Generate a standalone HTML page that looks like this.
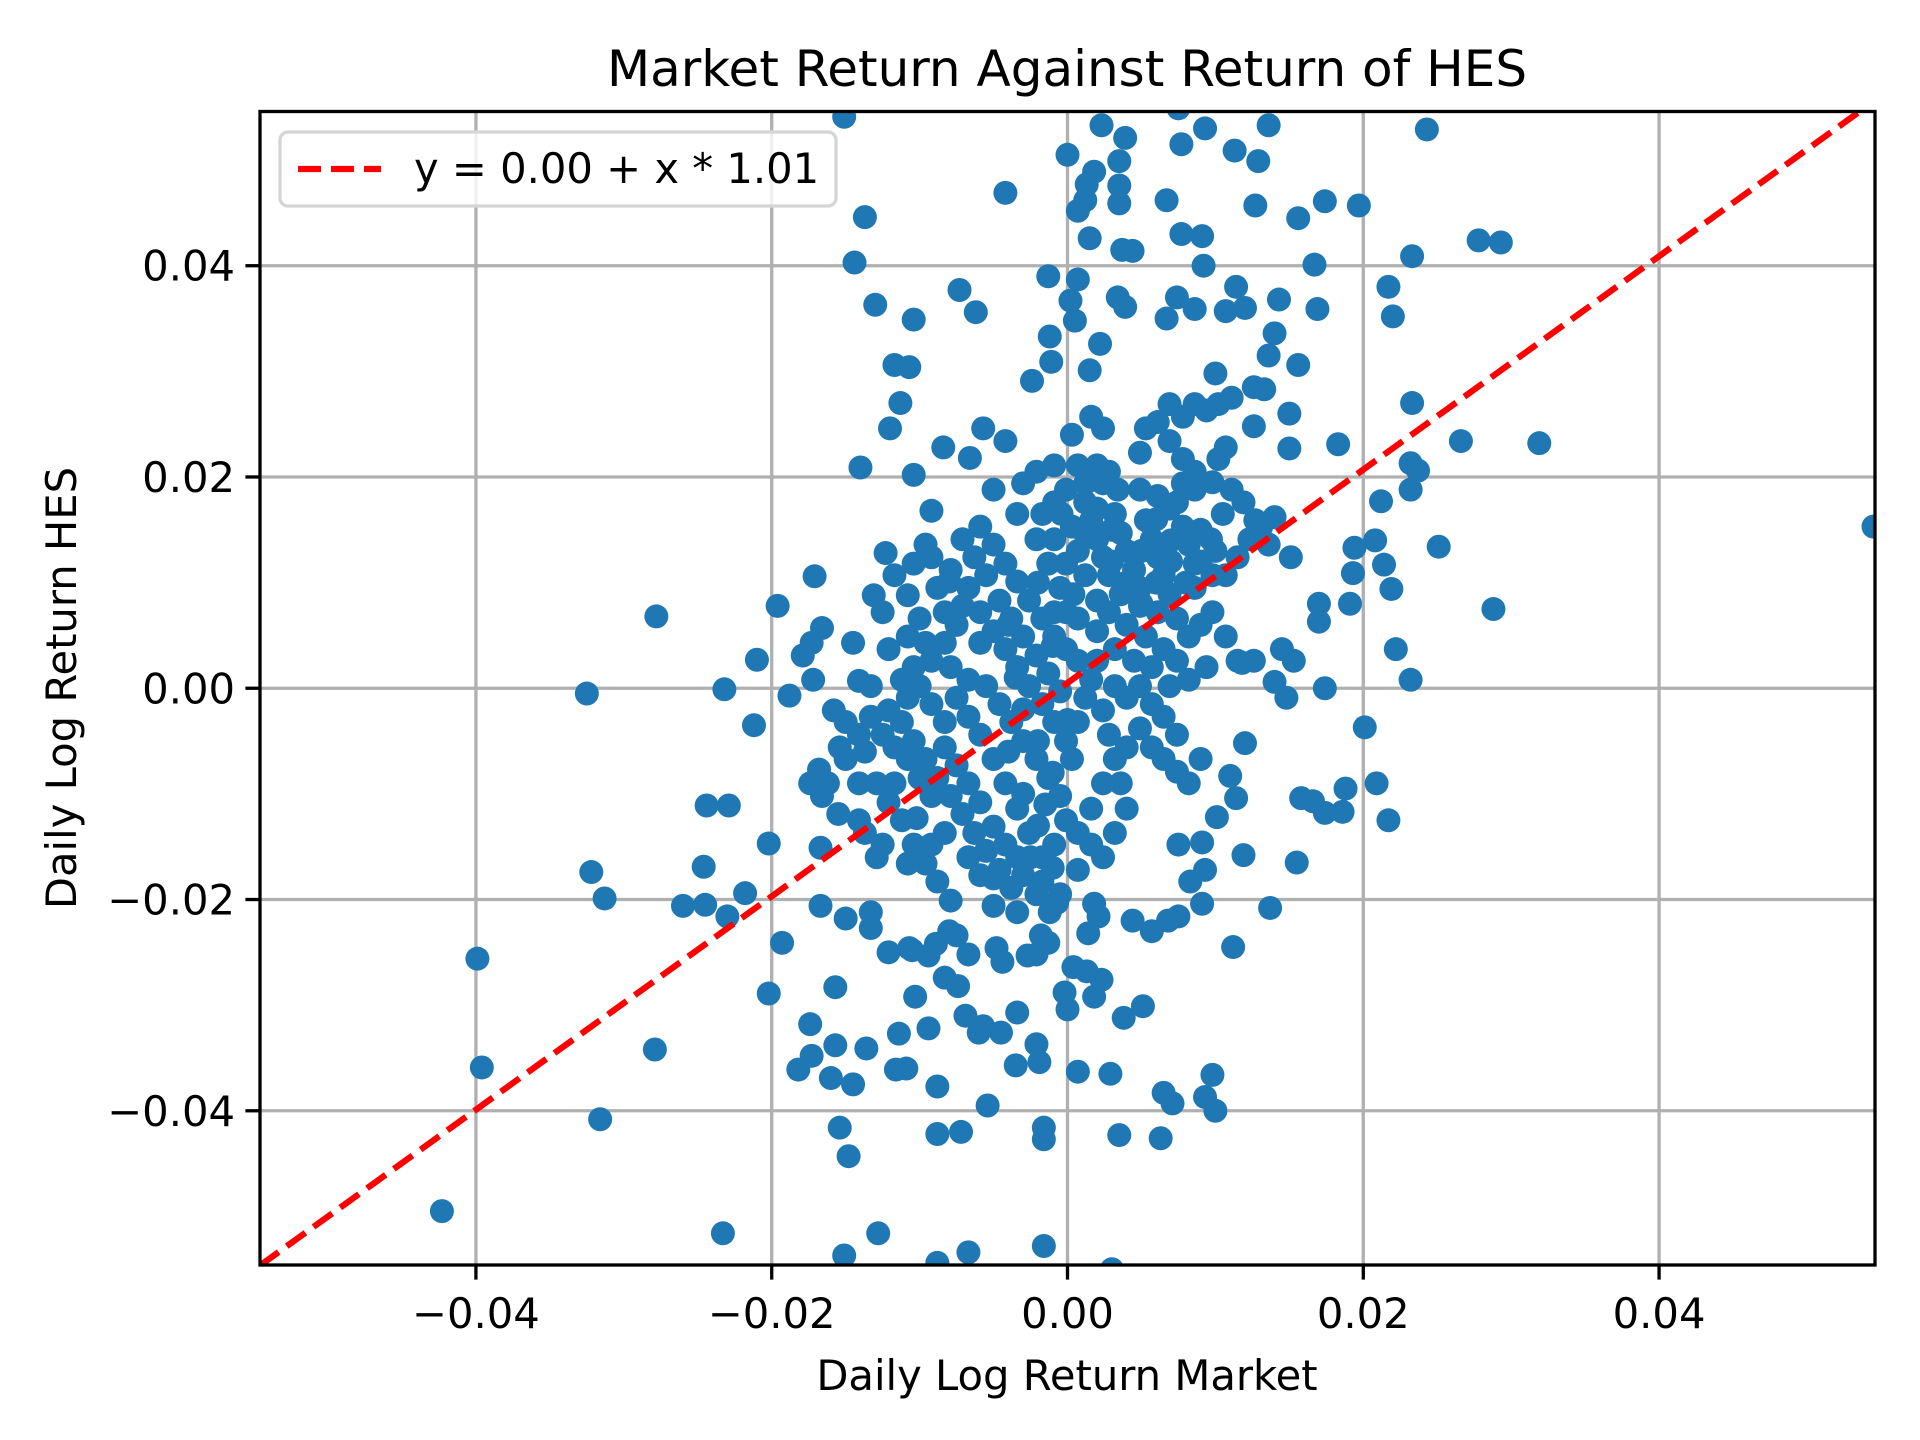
<!DOCTYPE html>
<html><head><meta charset="utf-8"><style>
html,body{margin:0;padding:0;background:#fff;}
svg{display:block;font-family:"DejaVu Sans","Liberation Sans",sans-serif;}
</style></head><body>
<svg id="chart" width="1920" height="1440" viewBox="0 0 1920 1440" xmlns="http://www.w3.org/2000/svg">
<rect x="0" y="0" width="1920" height="1440" fill="#fff"/>
<text x="1067" y="86" font-size="50" text-anchor="middle">Market Return Against Return of HES</text>
<g id="grid"></g>
<g id="marks"></g>
<g id="fit"></g>
<rect x="260" y="111.5" width="1615" height="1153.5" fill="none" stroke="#000" stroke-width="3.3"/>
<g id="axes"></g>
<text x="1067" y="1390" font-size="41.7" text-anchor="middle">Daily Log Return Market</text>
<text x="0" y="0" font-size="41.7" text-anchor="middle" transform="translate(76,688) rotate(-90)">Daily Log Return HES</text>
<g>
<rect x="280" y="132" width="556" height="74" rx="8" fill="#fff" fill-opacity="0.8" stroke="#d5d5d5" stroke-width="3.3"/>
<line x1="298" y1="169" x2="381" y2="169" stroke="#ff0000" stroke-width="6.25" stroke-dasharray="23,10"/>
<text x="414" y="183" font-size="41.7">y = 0.00 + x * 1.01</text>
</g>
</svg>
<script>
const xTicks = [-0.04, -0.02, 0.00, 0.02, 0.04];
const yTicks = [-0.04, -0.02, 0.00, 0.02, 0.04];
const xTickLabels = ["\u22120.04", "\u22120.02", "0.00", "0.02", "0.04"];
const yTickLabels = ["\u22120.04", "\u22120.02", "0.00", "0.02", "0.04"];
const fitIntercept = 0.0005;
const fitSlope = 1.01;
const outlierPairs = [
[0.0545,0.0153],[0.0319,0.0232],[0.0293,0.0422],[0.0278,0.0424],[0.0243,0.0529],[0.0288,0.0075],[0.0251,0.0134],[0.0266,0.0234],
[0.0233,0.0409],[0.0233,0.0270],[0.0232,0.0213],[0.0232,0.0188],[0.0237,0.0206],[0.0232,0.0008],[0.0222,0.0037],[0.0219,0.0094],
[0.0217,-0.0125],[0.0220,0.0352],[0.0217,0.0380],[0.0214,0.0117],[0.0212,0.0177],[0.0208,0.0140],[0.0209,-0.0090],[0.0201,-0.0037],
[0.0197,0.0457],[0.0194,0.0133],[0.0191,0.0080],[0.0193,0.0109],[0.0188,-0.0095],[0.0186,-0.0117],[0.0183,0.0231],[0.0174,0.0461],
[0.0169,0.0359],[0.0167,0.0401],[0.0174,0.0000],[0.0174,-0.0118],[0.0170,0.0080],[0.0170,0.0063],[0.0166,-0.0107],[0.0158,-0.0104],
[0.0155,-0.0165],[0.0156,0.0445],[0.0156,0.0306],[0.0150,0.0227],[0.0150,0.0260],[0.0148,-0.0009],[0.0153,0.0026],[0.0145,0.0037],
[0.0151,0.0124],[0.0140,0.0162],[0.0136,0.0533],[0.0143,0.0368],[0.0140,0.0336],[0.0136,0.0315],[0.0133,0.0283],[0.0127,0.0457],
[0.0129,0.0499],[0.0113,0.0509],[0.0114,0.0380],[0.0120,0.0360],[0.0107,0.0357],[0.0126,0.0248],[0.0126,0.0285],[0.0119,-0.0158],
[0.0120,-0.0052],[0.0112,-0.0245],[0.0114,-0.0104],[0.0110,-0.0083],[0.0101,-0.0122],[0.0137,-0.0208],[0.0118,0.0024],[0.0126,0.0026],
[0.0140,0.0006],[0.0098,-0.0366],[0.0100,-0.0400],[0.0093,-0.0387],[0.0100,0.0298],[0.0098,0.0195],[0.0092,0.0400],[0.0091,0.0428],
[0.0093,0.0530],[0.0077,0.0515],[0.0077,0.0430],[0.0074,0.0370],[0.0086,0.0359],[0.0067,0.0350],[0.0067,0.0462],[0.0039,0.0521],
[0.0035,0.0499],[0.0035,0.0476],[0.0035,0.0459],[0.0037,0.0415],[0.0044,0.0414],[0.0034,0.0370],[0.0039,0.0361],[0.0023,0.0533],
[0.0018,0.0489],[0.0013,0.0477],[0.0012,0.0462],[0.0007,0.0452],[0.0015,0.0426],[0.0000,0.0505],[0.0007,0.0387],[0.0002,0.0367],
[0.0005,0.0348],[-0.0013,0.0390],[-0.0012,0.0333],[-0.0011,0.0309],[-0.0024,0.0291],[0.0022,0.0326],[0.0015,0.0301],[-0.0042,0.0469],
[0.0075,0.0549],[-0.0151,0.0541],[-0.0137,0.0446],[-0.0144,0.0403],[-0.0130,0.0363],[-0.0104,0.0349],[-0.0117,0.0306],[-0.0107,0.0304],
[-0.0113,0.0270],[-0.0120,0.0246],[-0.0140,0.0209],[-0.0104,0.0202],[-0.0084,0.0228],[-0.0073,0.0377],[-0.0062,0.0356],[-0.0057,0.0246],
[-0.0042,0.0234],[-0.0066,0.0218],[-0.0092,0.0168],[-0.0123,0.0128],[-0.0080,0.0101],[-0.0131,0.0088],[-0.0108,0.0088],[-0.0171,0.0106],
[-0.0166,0.0057],[-0.0173,0.0043],[-0.0179,0.0031],[-0.0145,0.0043],[-0.0196,0.0078],[-0.0210,0.0027],[-0.0172,0.0008],[-0.0141,0.0007],
[-0.0232,-0.0001],[-0.0188,-0.0007],[-0.0212,-0.0035],[-0.0325,-0.0005],[-0.0278,0.0068],[-0.0244,-0.0111],[-0.0229,-0.0111],[-0.0202,-0.0147],
[-0.0246,-0.0169],[-0.0322,-0.0174],[-0.0313,-0.0199],[-0.0260,-0.0206],[-0.0245,-0.0205],[-0.0218,-0.0194],[-0.0230,-0.0216],[-0.0399,-0.0256],
[-0.0396,-0.0359],[-0.0279,-0.0342],[-0.0316,-0.0408],[-0.0423,-0.0495],[-0.0233,-0.0516],[-0.0193,-0.0241],[-0.0202,-0.0289],[-0.0174,-0.0318],
[-0.0182,-0.0361],[-0.0173,-0.0348],[-0.0160,-0.0369],[-0.0154,-0.0416],[-0.0148,-0.0443],[-0.0145,-0.0375],[-0.0157,-0.0338],[-0.0136,-0.0341],
[-0.0157,-0.0283],[-0.0167,-0.0206],[-0.0167,-0.0151],[-0.0150,-0.0218],[-0.0133,-0.0212],[-0.0133,-0.0227],[-0.0121,-0.0250],[-0.0114,-0.0327],
[-0.0116,-0.0361],[-0.0109,-0.0360],[-0.0103,-0.0292],[-0.0107,-0.0246],[-0.0088,-0.0377],[-0.0088,-0.0422],[-0.0072,-0.0420],[-0.0054,-0.0395],
[-0.0088,-0.0544],[-0.0067,-0.0534],[-0.0128,-0.0516],[-0.0151,-0.0537],[-0.0016,-0.0528],[0.0030,-0.0550],[-0.0016,-0.0416],[-0.0016,-0.0427],
[-0.0034,-0.0307],[-0.0035,-0.0357],[-0.0021,-0.0337],[-0.0019,-0.0354],[0.0000,-0.0304],[-0.0002,-0.0288],[0.0004,-0.0264],[0.0007,-0.0363],
[0.0013,-0.0268],[0.0023,-0.0276],[0.0018,-0.0292],[0.0029,-0.0365],[0.0038,-0.0312],[0.0035,-0.0423],[0.0051,-0.0301],[0.0063,-0.0426],
[0.0065,-0.0383],[0.0071,-0.0393],[0.0068,-0.0220],[0.0075,-0.0216],[0.0057,-0.0230],[0.0044,-0.0220],[0.0091,-0.0204],[0.0091,-0.0146],
[0.0083,-0.0183],[0.0075,-0.0148],[0.0093,-0.0172],[-0.0045,-0.0326],[-0.0057,-0.0320],[-0.0069,-0.0310],[-0.0074,-0.0282],[-0.0083,-0.0274],
[-0.0094,-0.0322],[-0.0060,-0.0326],[-0.0075,-0.0234],[-0.0067,-0.0252],[-0.0089,-0.0242],[-0.0080,-0.0230],[-0.0094,-0.0253],[-0.0105,-0.0248],
[-0.0048,-0.0246],[-0.0044,-0.0259],[-0.0027,-0.0253],[-0.0018,-0.0234],[-0.0013,-0.0241],[-0.0021,-0.0252],[-0.0012,-0.0212],[-0.0007,-0.0203],
[0.0014,-0.0232],[0.0018,-0.0204],[0.0021,-0.0216],[-0.0137,-0.0060],[-0.0155,-0.0119],[-0.0174,-0.0090],[-0.0168,-0.0077],[-0.0102,-0.0123]
];
const upperBlobPairs = [
[0.0012,0.0176],[0.0016,0.0159],[0.0020,0.0141],[0.0024,0.0124],[0.0028,0.0107],[0.0032,0.0165],[0.0036,0.0147],[0.0040,0.0130],
[0.0045,0.0112],[0.0049,0.0095],[0.0053,0.0159],[0.0057,0.0141],[0.0061,0.0124],[0.0065,0.0107],[0.0069,0.0089],[0.0074,0.0176],
[0.0078,0.0153],[0.0082,0.0136],[0.0086,0.0118],[0.0061,0.0182],[0.0069,0.0170],[0.0049,0.0188],[0.0024,0.0194],[0.0007,0.0130],
[0.0012,0.0107],[0.0020,0.0083],[0.0028,0.0072],[0.0040,0.0060],[0.0053,0.0049],[0.0065,0.0037],[0.0074,0.0026],[0.0082,0.0049],
[0.0090,0.0060],[0.0098,0.0072],[0.0107,0.0107],[0.0115,0.0124],[0.0123,0.0141],[0.0131,0.0153],[0.0097,0.0141],[0.0105,0.0165],
[0.0111,0.0188],[0.0078,0.0194],[0.0086,0.0188],[0.0003,0.0153],[-0.0001,0.0118],[0.0004,0.0089],[-0.0004,0.0165],[-0.0009,0.0141],
[0.0034,0.0188],[0.0069,0.0269],[0.0078,0.0257],[0.0086,0.0269],[0.0094,0.0263],[0.0102,0.0269],[0.0111,0.0275],[0.0053,0.0246],
[0.0061,0.0252],[0.0049,0.0223],[0.0069,0.0234],[0.0078,0.0217],[0.0086,0.0205],[0.0024,0.0246],[0.0016,0.0257],[0.0020,0.0211],
[0.0028,0.0205],[0.0007,0.0211],[0.0012,0.0194],[-0.0009,0.0176],[-0.0001,0.0188],[0.0119,0.0176],[0.0127,0.0159],[0.0136,0.0136],
[0.0107,0.0049],[0.0115,0.0026],[0.0094,0.0020],[0.0082,0.0008],[0.0069,0.0002],[0.0057,0.0020],[0.0045,0.0026],[0.0032,0.0037],
[0.0020,0.0054],[0.0007,0.0066],[-0.0001,0.0037],[0.0074,0.0066],[0.0061,0.0072],[0.0049,0.0078],[0.0036,0.0089],[0.0098,0.0107],
[0.0086,0.0095],[0.0102,0.0217],[0.0107,0.0228],
[0.0030,0.0150],[0.0050,0.0130],[0.0070,0.0120],[0.0090,0.0150],[0.0040,0.0100],[0.0060,0.0160],[0.0080,0.0100],[0.0020,0.0170],
[0.0100,0.0130],[0.0050,0.0080],[0.0030,0.0120],[0.0070,0.0140],[0.0090,0.0120],[0.0010,0.0150],[0.0060,0.0100]
];
const corePairs = [
[-0.0059,0.0153],[-0.0050,0.0136],[-0.0042,0.0118],[-0.0034,0.0101],[-0.0026,0.0083],[-0.0017,0.0066],[-0.0009,0.0049],[-0.0046,0.0083],
[-0.0038,0.0066],[-0.0030,0.0049],[-0.0021,0.0031],[-0.0013,0.0014],[-0.0005,-0.0003],[-0.0055,0.0107],[-0.0063,0.0124],[-0.0071,0.0141],
[-0.0067,0.0095],[-0.0059,0.0072],[-0.0050,0.0054],[-0.0042,0.0037],[-0.0034,0.0020],[-0.0026,0.0002],[-0.0017,-0.0015],[-0.0009,-0.0032],
[-0.0001,-0.0050],[-0.0075,0.0060],[-0.0083,0.0043],[-0.0092,0.0026],[-0.0079,0.0020],[-0.0067,0.0008],[-0.0055,0.0002],[-0.0046,-0.0015],
[-0.0038,-0.0032],[-0.0030,-0.0050],[-0.0021,-0.0067],[-0.0013,-0.0085],[-0.0005,-0.0102],[0.0003,-0.0067],[0.0007,-0.0032],[0.0012,-0.0009],
[0.0016,0.0008],[0.0020,0.0026],[0.0024,-0.0021],[0.0028,-0.0044],[0.0032,-0.0067],[0.0036,-0.0090],[0.0040,-0.0114],[0.0024,-0.0090],
[0.0016,-0.0114],[0.0007,-0.0137],[-0.0001,-0.0125],[-0.0009,-0.0148],[-0.0017,-0.0160],[-0.0026,-0.0137],[-0.0034,-0.0114],[-0.0042,-0.0090],
[-0.0050,-0.0067],[-0.0059,-0.0044],[-0.0067,-0.0027],[-0.0075,-0.0009],[-0.0083,-0.0032],[-0.0092,-0.0015],[-0.0100,0.0002],[-0.0108,-0.0009],
[-0.0112,-0.0032],[-0.0104,-0.0050],[-0.0096,-0.0067],[-0.0088,-0.0085],[-0.0079,-0.0102],[-0.0071,-0.0119],[-0.0063,-0.0137],[-0.0055,-0.0154],
[-0.0046,-0.0172],[-0.0038,-0.0189],[-0.0030,-0.0177],[-0.0021,-0.0195],[-0.0034,-0.0160],[-0.0042,-0.0148],[-0.0050,-0.0131],[-0.0059,-0.0108],
[-0.0067,-0.0090],[-0.0075,-0.0073],[-0.0083,-0.0056],[-0.0092,-0.0102],[-0.0100,-0.0085],[-0.0108,-0.0067],[-0.0117,-0.0056],[-0.0125,-0.0044],
[-0.0133,-0.0027],[-0.0141,-0.0044],[-0.0129,-0.0090],[-0.0121,-0.0108],[-0.0112,-0.0125],[-0.0104,-0.0148],[-0.0096,-0.0166],[-0.0088,-0.0183],
[-0.0079,-0.0201],[-0.0092,-0.0148],[-0.0083,-0.0137],[-0.0067,-0.0160],[-0.0059,-0.0177],[-0.0050,-0.0206],[-0.0034,-0.0212],[-0.0017,-0.0183],
[-0.0005,-0.0195],[0.0007,-0.0172],[0.0016,-0.0148],[0.0024,-0.0160],[0.0032,-0.0137],[0.0040,-0.0056],[0.0049,-0.0038],[0.0057,-0.0056],
[0.0065,-0.0067],[0.0074,-0.0079],[0.0082,-0.0090],[0.0090,-0.0067],[0.0074,-0.0044],[0.0065,-0.0027],[0.0057,-0.0015],[0.0049,0.0002],
[0.0040,-0.0009],[0.0032,0.0002],[-0.0092,0.0124],[-0.0079,0.0112],[-0.0071,0.0078],[-0.0050,0.0188],[-0.0034,0.0165],[-0.0021,0.0141],
[-0.0013,0.0118],[-0.0005,0.0095],[-0.0030,0.0194],[-0.0017,0.0165],[-0.0009,0.0211],[0.0003,0.0240],[-0.0021,0.0205],[-0.0001,0.0072],
[-0.0059,0.0043],[0.0007,0.0026],[-0.0009,0.0072],[-0.0117,-0.0090],[-0.0141,-0.0090],[-0.0150,-0.0067],[-0.0154,-0.0056],[-0.0162,-0.0090],
[-0.0166,-0.0102],[-0.0125,-0.0148],[-0.0108,-0.0166],[-0.0141,-0.0125],[-0.0129,-0.0160],[-0.0137,-0.0137],[-0.0158,-0.0021],[-0.0150,-0.0032],
[-0.0133,0.0002],[-0.0121,-0.0021],[-0.0112,0.0008],[-0.0104,0.0020],[-0.0096,0.0043],[-0.0083,0.0072],[-0.0088,0.0095],[-0.0100,0.0066],
[-0.0108,0.0049],[-0.0121,0.0037],[-0.0125,0.0072],[-0.0117,0.0107],[-0.0104,0.0118],[-0.0096,0.0136],
[-0.0020,-0.0050],[-0.0010,-0.0080],[-0.0030,-0.0100],[-0.0020,-0.0130],[-0.0010,-0.0170],[-0.0030,-0.0020],[-0.0040,0.0060],[-0.0020,0.0100],
[-0.0010,0.0040],[-0.0040,-0.0060],[-0.0025,-0.0160],[-0.0015,-0.0110],[0.0000,-0.0030],[-0.0035,0.0010],[-0.0050,-0.0180]
];

const plotLeft = 260, plotRight = 1875, plotTop = 111.5, plotBottom = 1265;
const xMin = -0.0546, xMax = 0.0546, yMin = -0.0546, yMax = 0.0546;
function xScale(v){ return plotLeft + (v - xMin) / (xMax - xMin) * (plotRight - plotLeft); }
function yScale(v){ return plotBottom - (v - yMin) / (yMax - yMin) * (plotBottom - plotTop); }
const NS = "http://www.w3.org/2000/svg";
function mk(tag, attrs){ const e = document.createElementNS(NS, tag); for (const k in attrs) e.setAttribute(k, attrs[k]); return e; }

const grid = document.getElementById('grid');
const axes = document.getElementById('axes');
xTicks.forEach((t, i) => {
  const x = xScale(t);
  const gl = mk('line', {x1:x, y1:plotTop, x2:x, y2:plotBottom, stroke:'#b0b0b0', 'stroke-width':3.3});
  
  
  grid.appendChild(gl);
  const tk = mk('line', {x1:x, y1:plotBottom, x2:x, y2:plotBottom + 14.6, stroke:'#000', 'stroke-width':3.3});
  
  
  axes.appendChild(tk);
  const lb = mk('text', {x:x, y:plotBottom + 63, 'font-size':41.7, 'text-anchor':'middle'});
  lb.textContent = xTickLabels[i];
  
  
  axes.appendChild(lb);
});
yTicks.forEach((t, i) => {
  const y = yScale(t);
  const gl = mk('line', {x1:plotLeft, y1:y, x2:plotRight, y2:y, stroke:'#b0b0b0', 'stroke-width':3.3});
  
  
  grid.appendChild(gl);
  const tk = mk('line', {x1:plotLeft - 14.6, y1:y, x2:plotLeft, y2:y, stroke:'#000', 'stroke-width':3.3});
  
  
  axes.appendChild(tk);
  const lb = mk('text', {x:plotLeft - 25, y:y + 15, 'font-size':41.7, 'text-anchor':'end'});
  lb.textContent = yTickLabels[i];
  
  
  axes.appendChild(lb);
});

const marks = document.getElementById('marks');
const clipDef = mk('clipPath', {id:'plotclip'});
clipDef.appendChild(mk('rect', {x:plotLeft, y:plotTop, width:plotRight - plotLeft, height:plotBottom - plotTop}));
document.getElementById('chart').insertBefore(clipDef, marks);
marks.setAttribute('clip-path', 'url(#plotclip)');
[outlierPairs, upperBlobPairs, corePairs].forEach(arr => arr.forEach(p => {
  const c = mk('circle', {cx:xScale(p[0]), cy:yScale(p[1]), r:12, fill:'#1f77b4'});
  
  
  marks.appendChild(c);
}));

const fit = document.getElementById('fit');
fit.setAttribute('clip-path', 'url(#plotclip)');
const fl = mk('line', {x1:xScale(xMin), y1:yScale(fitIntercept + fitSlope * xMin), x2:xScale(xMax), y2:yScale(fitIntercept + fitSlope * xMax), stroke:'#ff0000', 'stroke-width':6.25, 'stroke-dasharray':'23,10'});


fit.appendChild(fl);
</script>
</body></html>
